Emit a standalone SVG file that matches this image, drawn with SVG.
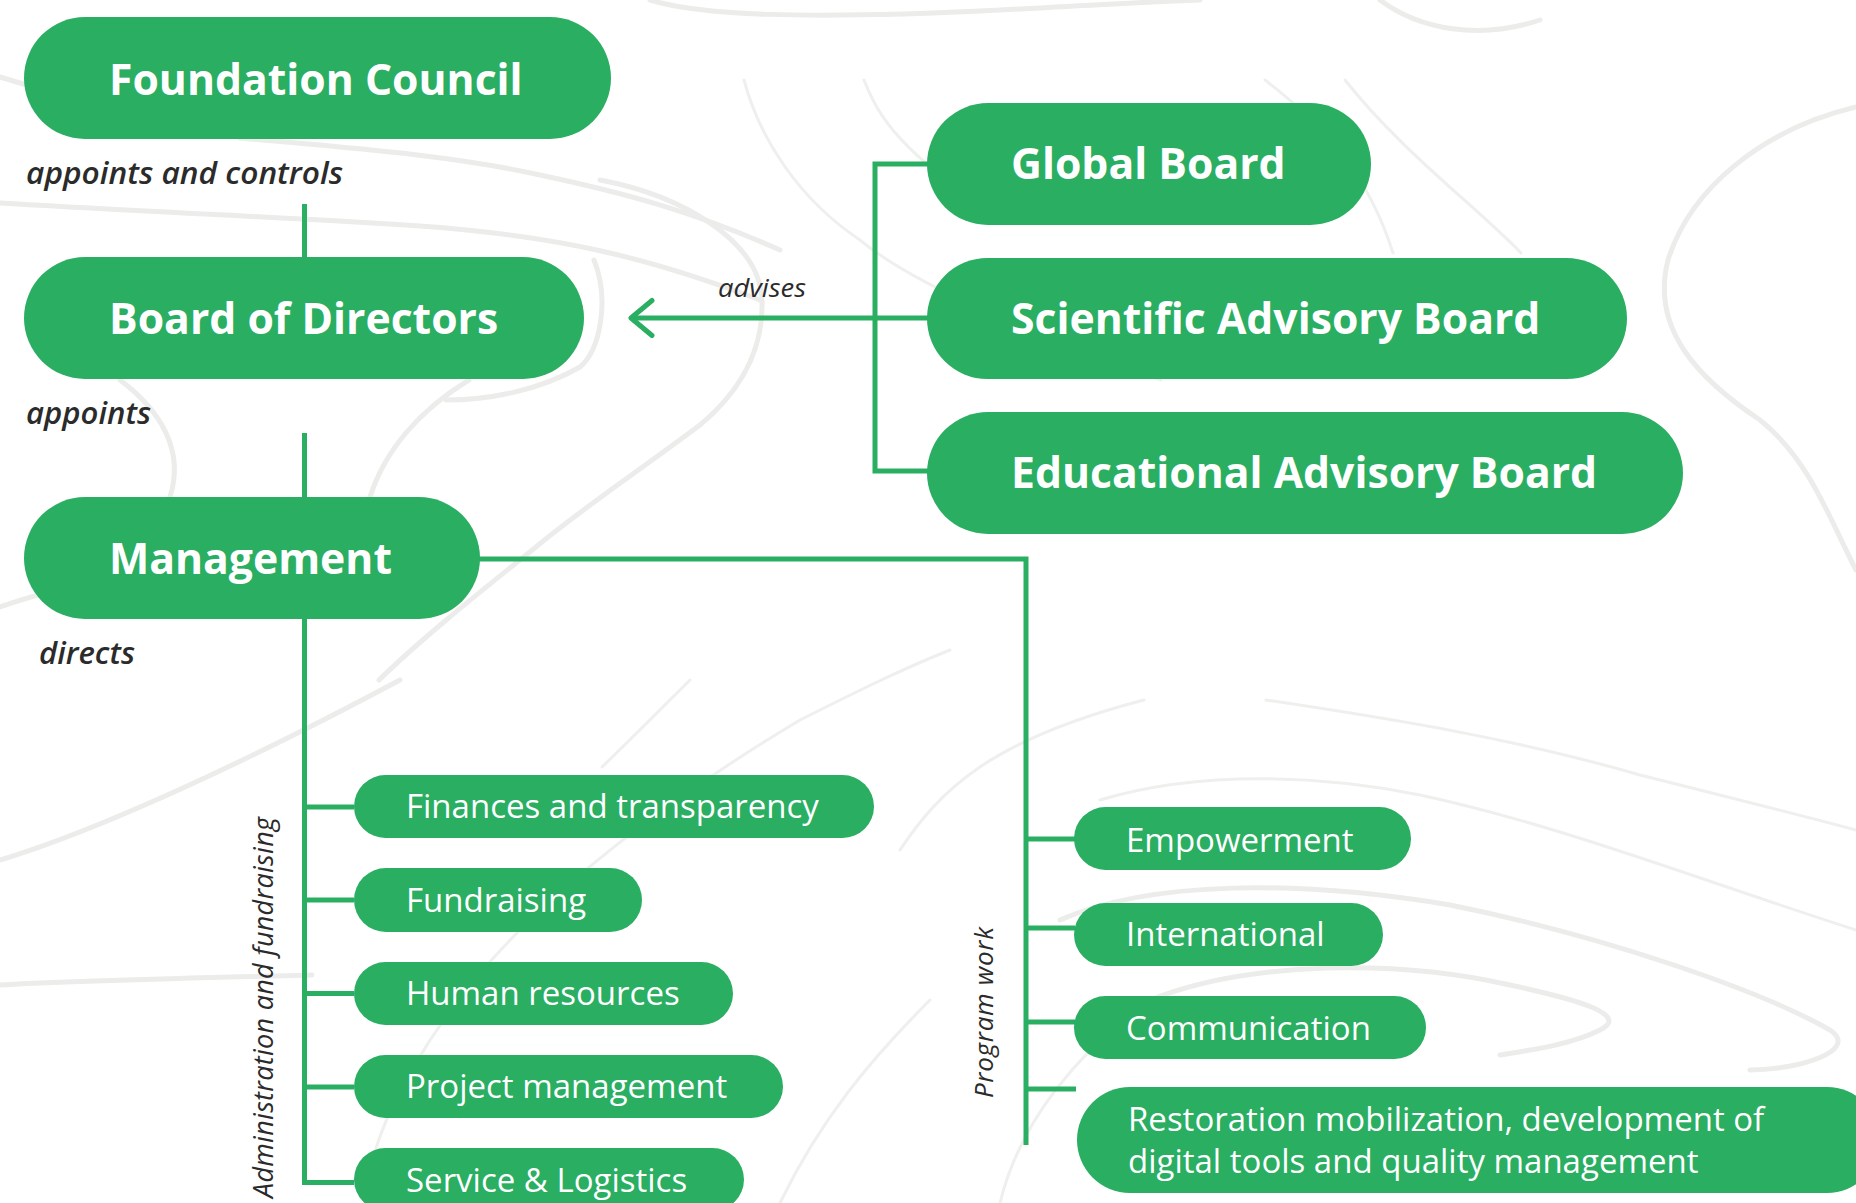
<svg xmlns="http://www.w3.org/2000/svg" width="1856" height="1203" viewBox="0 0 1856 1203">
  <style>
    .bg { fill: none; stroke: #ececea; stroke-width: 5; stroke-linecap: round; }
    .bg2 { fill: none; stroke: #efefed; stroke-width: 3; stroke-linecap: round; }
    .pill { fill: #29ae62; }
    .big { font-family: "Open Sans", "Noto Sans", sans-serif; font-weight: 700; font-size: 42.7px; fill: #ffffff; }
    .small { font-family: "Open Sans", "Noto Sans", sans-serif; font-weight: 400; font-size: 33px; fill: #ffffff; }
    .lbl { font-family: "Open Sans", "Noto Sans", sans-serif; font-style: italic; font-weight: 600; font-size: 30px; fill: #2b2b2b; }
    .rot { font-family: "Open Sans", "Noto Sans", sans-serif; font-style: italic; font-weight: 400; font-size: 27px; fill: #2b2b2b; }
    .conn { fill: none; stroke: #29ae62; stroke-width: 5; }
  </style>
  <defs>
    <marker id="arrow" markerUnits="userSpaceOnUse" markerWidth="30" markerHeight="44" refX="26" refY="20" orient="auto" viewBox="0 0 30 44">
      <polyline points="5,2.5 26,20 5,37.5" fill="none" stroke="#29ae62" stroke-width="5" stroke-linecap="round" stroke-linejoin="round"/>
    </marker>
  </defs>
  <rect width="1856" height="1203" fill="#ffffff"/>

  <g id="background">
    <path class="bg" d="M0,77 C40,90 80,100 130,106"/>
    <path class="bg" d="M0,203 C150,212 300,218 420,226 C560,236 650,258 760,300"/>
    <path class="bg" d="M240,138 C350,148 450,155 540,175 C620,192 690,210 780,250"/>
    <path class="bg" d="M600,180 C680,195 760,240 762,300 C764,360 730,400 700,425 C640,470 580,510 536,547 C470,600 420,640 379,680"/>
    <path class="bg2" d="M744,80 C760,140 800,200 860,240 C920,290 1050,340 1161,380"/>
    <path class="bg2" d="M864,80 C880,120 900,150 1000,220"/>
    <path class="bg2" d="M1265,80 C1330,130 1370,180 1393,253"/>
    <path class="bg2" d="M1345,80 C1400,150 1480,210 1521,253"/>
    <path class="bg" d="M1856,107 C1760,130 1690,190 1668,260 C1650,330 1700,380 1760,420 C1810,460 1830,520 1856,570"/>
    <path class="bg" d="M1380,0 C1420,30 1480,40 1540,20"/>
    <path class="bg" d="M650,0 C700,15 800,20 1000,10 C1100,5 1180,0 1200,0"/>
    <path class="bg" d="M120,380 C160,410 185,450 170,497"/>
    <path class="bg" d="M370,497 C385,450 420,410 469,380"/>
    <path class="bg" d="M0,607 C20,600 35,596 45,593"/>
    <path class="bg" d="M594,260 C610,300 600,350 580,367 C540,390 490,400 446,400"/>
    <path class="bg" d="M0,860 C100,830 250,760 400,680"/>
    <path class="bg" d="M0,985 C100,980 200,978 312,975"/>
    <path class="bg2" d="M365,1203 C370,1120 440,1010 520,930 C600,850 700,780 800,720 C860,690 900,670 950,650"/>
    <path class="bg2" d="M780,1203 C820,1120 870,1060 930,1000"/>
    <path class="bg2" d="M602,767 C630,740 650,720 690,680"/>
    <path class="bg2" d="M1266,700 C1400,720 1520,740 1640,775 C1740,800 1800,815 1856,830"/>
    <path class="bg2" d="M1100,800 C1200,770 1320,775 1420,795 C1560,825 1700,880 1856,930"/>
    <path class="bg" d="M1060,920 C1150,880 1300,880 1450,905 C1600,935 1760,990 1830,1030 C1860,1050 1800,1070 1750,1070"/>
    <path class="bg" d="M1150,1000 C1250,960 1400,960 1510,985 C1580,1000 1630,1015 1600,1030 C1570,1045 1530,1050 1500,1055"/>
    <path class="bg2" d="M1000,1203 C1020,1120 1080,1050 1150,1000"/>
    <path class="bg2" d="M900,850 C940,790 990,740 1144,700"/>
  </g>

  <g id="connectors">
    <line class="conn" x1="304.5" y1="204" x2="304.5" y2="258"/>
    <line class="conn" x1="304.5" y1="433" x2="304.5" y2="498"/>
    <path class="conn" d="M304.5,618 V1182.5 H354 M302,807 H354 M302,900 H354 M302,993.5 H354 M302,1087 H354"/>
    <path class="conn" d="M479,559 H1026 V1145 M1026,839 H1075 M1026,928 H1075 M1026,1022 H1075 M1026,1089 H1076"/>
    <path class="conn" d="M928,164 H875 V471 H928"/>
    <line class="conn" x1="928" y1="318" x2="631" y2="318" marker-end="url(#arrow)"/>
  </g>

  <g id="label-appoints-controls"><text class="lbl" x="26" y="184" textLength="317" lengthAdjust="spacingAndGlyphs">appoints and controls</text></g>
  <g id="label-appoints"><text class="lbl" x="26" y="424" textLength="125" lengthAdjust="spacingAndGlyphs">appoints</text></g>
  <g id="label-directs"><text class="lbl" x="39" y="664" textLength="96" lengthAdjust="spacingAndGlyphs">directs</text></g>
  <g id="label-advises"><text class="lbl" x="718" y="297" style="font-size:26px;font-weight:400" textLength="88" lengthAdjust="spacingAndGlyphs">advises</text></g>
  <g id="label-admin"><text class="rot" transform="translate(273,1198) rotate(-90)" textLength="381" lengthAdjust="spacing">Administration and fundraising</text></g>
  <g id="label-program"><text class="rot" transform="translate(993,1098) rotate(-90)" style="font-size:26px" textLength="171" lengthAdjust="spacing">Program work</text></g>

  <g id="node-foundation-council">
    <rect class="pill" x="24" y="17" width="587" height="122" rx="61"/>
    <text class="big" x="109" y="95">Foundation Council</text>
  </g>
  <g id="node-board-of-directors">
    <rect class="pill" x="24" y="257" width="560" height="122" rx="61"/>
    <text class="big" x="109" y="334">Board of Directors</text>
  </g>
  <g id="node-management">
    <rect class="pill" x="24" y="497" width="456" height="122" rx="61"/>
    <text class="big" x="109" y="574">Management</text>
  </g>
  <g id="node-global-board">
    <rect class="pill" x="927" y="103" width="444" height="122" rx="61"/>
    <text class="big" x="1011" y="179">Global Board</text>
  </g>
  <g id="node-scientific-advisory-board">
    <rect class="pill" x="927" y="258" width="700" height="121" rx="60.5"/>
    <text class="big" x="1011" y="334">Scientific Advisory Board</text>
  </g>
  <g id="node-educational-advisory-board">
    <rect class="pill" x="927" y="412" width="756" height="122" rx="61"/>
    <text class="big" x="1011" y="488">Educational Advisory Board</text>
  </g>

  <g id="node-finances">
    <rect class="pill" x="354" y="775" width="520" height="63" rx="31.5"/>
    <text class="small" x="406" y="818">Finances and transparency</text>
  </g>
  <g id="node-fundraising">
    <rect class="pill" x="354" y="868" width="288" height="64" rx="32"/>
    <text class="small" x="406" y="912">Fundraising</text>
  </g>
  <g id="node-human-resources">
    <rect class="pill" x="354" y="962" width="379" height="63" rx="31.5"/>
    <text class="small" x="406" y="1005">Human resources</text>
  </g>
  <g id="node-project-management">
    <rect class="pill" x="354" y="1055" width="429" height="63" rx="31.5"/>
    <text class="small" x="406" y="1098">Project management</text>
  </g>
  <g id="node-service-logistics">
    <rect class="pill" x="354" y="1148" width="390" height="63" rx="31.5"/>
    <text class="small" x="406" y="1192">Service &amp; Logistics</text>
  </g>

  <g id="node-empowerment">
    <rect class="pill" x="1074" y="807" width="337" height="63" rx="31.5"/>
    <text class="small" x="1126" y="852">Empowerment</text>
  </g>
  <g id="node-international">
    <rect class="pill" x="1074" y="903" width="309" height="63" rx="31.5"/>
    <text class="small" x="1126" y="946">International</text>
  </g>
  <g id="node-communication">
    <rect class="pill" x="1074" y="996" width="352" height="63" rx="31.5"/>
    <text class="small" x="1126" y="1040">Communication</text>
  </g>
  <g id="node-restoration">
    <rect class="pill" x="1077" y="1087" width="803" height="106" rx="53"/>
    <text class="small" x="1128" y="1131">Restoration mobilization, development of</text>
    <text class="small" x="1128" y="1173">digital tools and quality management</text>
  </g>
</svg>
